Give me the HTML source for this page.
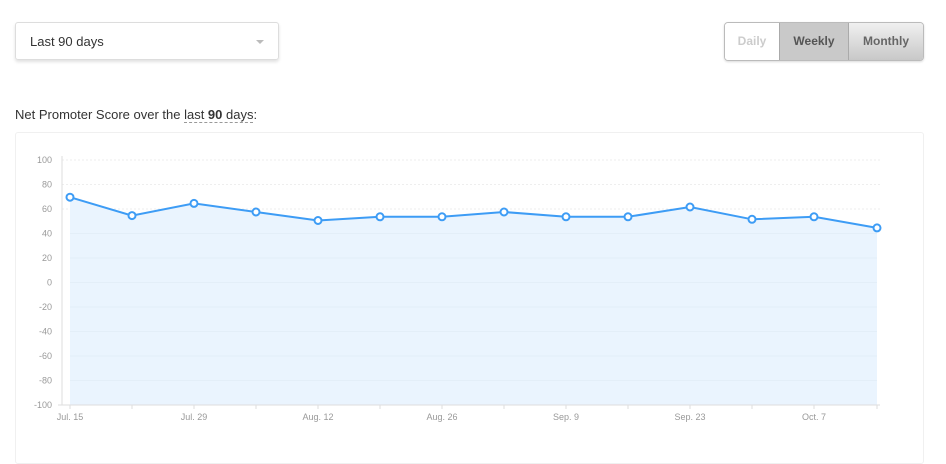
<!DOCTYPE html>
<html><head><style>
body{margin:0;width:946px;height:446px;background:#fff;font-family:"Liberation Sans",sans-serif;overflow:hidden;position:relative}
.dd{position:absolute;left:15px;top:22px;width:264px;height:38px;border:1px solid #ddd;border-radius:3px;box-shadow:0 2px 3px rgba(0,0,0,.12);font-size:13px;color:#333;line-height:38px;padding-left:14px;box-sizing:border-box}
.dd:after{content:"";position:absolute;right:14px;top:17px;border:4px solid transparent;border-top-color:#bbb}
.btns{position:absolute;left:724px;top:22px;height:37px;display:flex;border:1px solid #bbb;border-radius:4px;overflow:hidden;font-size:12px;font-weight:bold;box-shadow:0 1px 2px rgba(0,0,0,.15)}
.btns div{line-height:37px;text-align:center}
.title{position:absolute;left:15px;top:107px;font-size:13px;color:#333}
.card{position:absolute;left:15px;top:132px;width:907px;height:330px;border:1px solid #f0f0f0;border-radius:3px}
</style></head><body>
<div class="dd">Last 90 days</div>
<div class="btns">
<div style="width:54px;color:#ccc;background:#fff">Daily</div>
<div style="width:68px;color:#555;background:#c9c9c9;border-left:1px solid #aaa;border-right:1px solid #aaa">Weekly</div>
<div style="width:74px;color:#666;background:linear-gradient(#f0f0f0,#c8c8c8)">Monthly</div>
</div>
<div class="title">Net Promoter Score over the <span style="border-bottom:1px dashed #999">last <b>90</b> days</span>:</div>
<div class="card"></div>
<svg width="946" height="446" style="position:absolute;left:0;top:0" font-family="Liberation Sans" font-size="9" fill="#999">
<g stroke="#eee" stroke-dasharray="2,2">
<line x1="62" x2="880" y1="160" y2="160"/><line x1="62" x2="880" y1="184.5" y2="184.5"/><line x1="62" x2="880" y1="209" y2="209"/>
</g>
<polygon fill="#eaf4fe" points="70,405 70,197.2 132,215.6 194,203.4 256,212 318,220.5 380,216.8 442,216.8 504,212 566,216.8 628,216.8 690,207 752,219.3 814,216.8 877,227.9 877,405"/>
<g stroke="#e3eef8"><line x1="70" x2="877" y1="233.5" y2="233.5"/><line x1="70" x2="877" y1="258" y2="258"/><line x1="70" x2="877" y1="282.5" y2="282.5"/><line x1="70" x2="877" y1="307" y2="307"/><line x1="70" x2="877" y1="331.5" y2="331.5"/><line x1="70" x2="877" y1="356" y2="356"/><line x1="70" x2="877" y1="380.5" y2="380.5"/></g>
<g stroke="#ddd"><line x1="62" x2="62" y1="156" y2="405"/><line x1="58" x2="880" y1="405" y2="405"/>
<path d="M70 405v4M132 405v4M194 405v4M256 405v4M318 405v4M380 405v4M442 405v4M504 405v4M566 405v4M628 405v4M690 405v4M752 405v4M814 405v4M877 405v4"/></g>
<g text-anchor="end">
<text x="52" y="163">100</text><text x="52" y="187.5">80</text><text x="52" y="212">60</text><text x="52" y="236.5">40</text><text x="52" y="261">20</text><text x="52" y="285.5">0</text><text x="52" y="310">-20</text><text x="52" y="334.5">-40</text><text x="52" y="359">-60</text><text x="52" y="383.5">-80</text><text x="52" y="408">-100</text>
</g>
<g text-anchor="middle"><text x="70" y="420">Jul. 15</text><text x="194" y="420">Jul. 29</text><text x="318" y="420">Aug. 12</text><text x="442" y="420">Aug. 26</text><text x="566" y="420">Sep. 9</text><text x="690" y="420">Sep. 23</text><text x="814" y="420">Oct. 7</text></g>
<polyline fill="none" stroke="#3d9cf5" stroke-width="2" points="70,197.2 132,215.6 194,203.4 256,212 318,220.5 380,216.8 442,216.8 504,212 566,216.8 628,216.8 690,207 752,219.3 814,216.8 877,227.9"/>
<g fill="#fff" stroke="#3d9cf5" stroke-width="2">
<circle cx="70" cy="197.2" r="3.5"/><circle cx="132" cy="215.6" r="3.5"/><circle cx="194" cy="203.4" r="3.5"/><circle cx="256" cy="212" r="3.5"/><circle cx="318" cy="220.5" r="3.5"/><circle cx="380" cy="216.8" r="3.5"/><circle cx="442" cy="216.8" r="3.5"/><circle cx="504" cy="212" r="3.5"/><circle cx="566" cy="216.8" r="3.5"/><circle cx="628" cy="216.8" r="3.5"/><circle cx="690" cy="207" r="3.5"/><circle cx="752" cy="219.3" r="3.5"/><circle cx="814" cy="216.8" r="3.5"/><circle cx="877" cy="227.9" r="3.5"/>
</g>
</svg>
</body></html>
